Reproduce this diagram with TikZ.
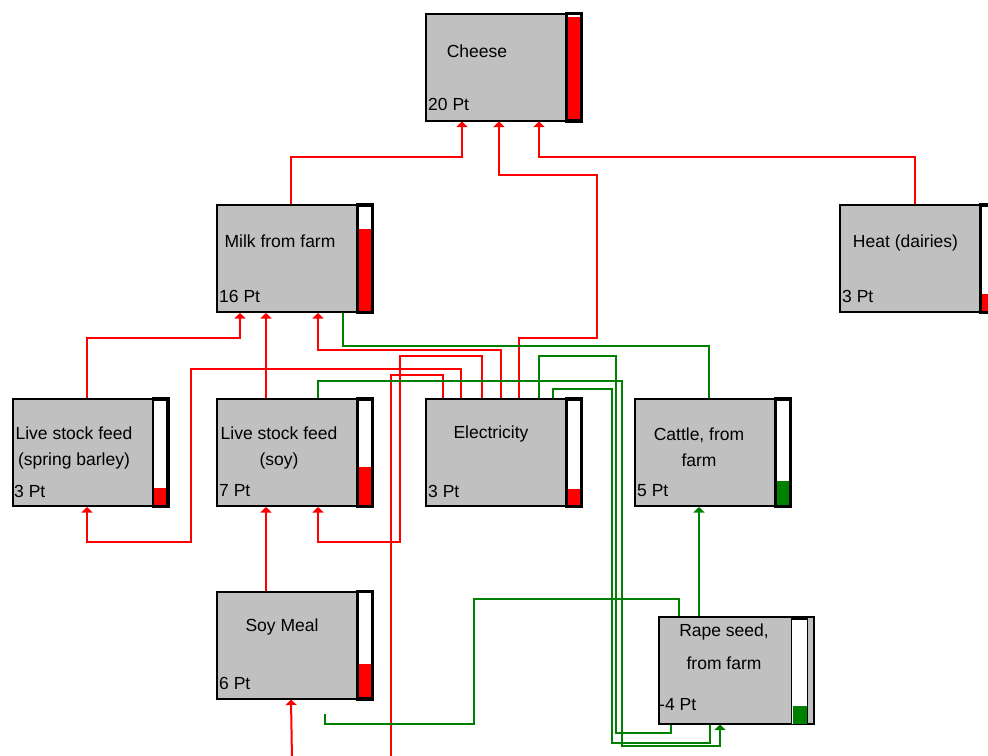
\documentclass[tikz,border=0pt]{standalone}
\usepackage{fontspec}
\setmainfont{Liberation Sans}
\usepackage{tikz}
\usetikzlibrary{arrows.meta,positioning}

\definecolor{boxgray}{RGB}{192,192,192}
\definecolor{flowred}{RGB}{255,0,0}
\definecolor{flowgreen}{RGB}{0,128,0}

% score bar at the right edge of a box: node, fraction, colour
\newcommand{\levelbar}[3]{%
  \fill[black] ([shift={(-17bp,1bp)}]#1.north east) rectangle ([shift={(1bp,-1bp)}]#1.south east);
  \fill[white] ([shift={(-14.5bp,-2.5bp)}]#1.north east) rectangle ([shift={(-2.5bp,2.5bp)}]#1.south east);
  \fill[#3] ([shift={(-14.5bp,2.5bp)}]#1.south east) rectangle ([shift={(-2.5bp,{2.5bp+102bp*#2})}]#1.south east);
}

\begin{document}
\begin{tikzpicture}[
  procbox/.style={draw,line width=2bp,fill=boxgray,minimum width=155bp,minimum height=107bp,inner sep=0pt},
  lbl/.style={font=\fontsize{17.5bp}{26bp}\selectfont,inner sep=0pt,align=center},
  ptlbl/.style={font=\fontsize{17.5bp}{21bp}\selectfont,inner sep=0pt,anchor=west},
  redflow/.style={draw=flowred,line width=2bp},
  greenflow/.style={draw=flowgreen,line width=2bp},
  flowtip/.style={-{Triangle[width=11bp,length=5.5bp]}}
]
\useasboundingbox (0,0) rectangle (988bp,-756bp);
\clip (0,0) rectangle (988bp,-756bp);

% boxes
\node (cheese) at (503.5bp,-67bp)[procbox] {};
\node (milk) at (294.5bp,-258.5bp)[procbox] {};
\node (heat) at (917.5bp,-258.5bp)[procbox] {};
\node (barley) at (90bp,-452.5bp)[procbox] {};
\node (soyfeed) at (294.5bp,-452.5bp)[procbox] {};
\node (elec) at (503.5bp,-452.5bp)[procbox] {};
\node (cattle) at (712.5bp,-452.5bp)[procbox] {};
\node (soymeal) at (294.5bp,-645bp)[procbox] {};
\node (rape) at (736.5bp,-670bp)[procbox] {};

\levelbar{cheese}{1}{flowred}
\levelbar{milk}{0.8}{flowred}
\levelbar{heat}{0.16}{flowred}
\levelbar{barley}{0.16}{flowred}
\levelbar{soyfeed}{0.37}{flowred}
\levelbar{elec}{0.15}{flowred}
\levelbar{cattle}{0.235}{flowgreen}
\levelbar{soymeal}{0.32}{flowred}
% the rape seed bar sits a little inside the box
\draw[line width=1.2bp,fill=white] ([shift={(-23.5bp,-3.5bp)}]rape.north east) rectangle ([shift={(-7.5bp,0bp)}]rape.south east);
\fill[flowgreen] ([shift={(-22.5bp,1bp)}]rape.south east) rectangle ([shift={(-8.5bp,19bp)}]rape.south east);

% texts
\node (cheesetxt) at (477bp,-51bp)[lbl] {Cheese};
\node (cheesept) at (428bp,-104bp)[ptlbl] {20 Pt};
\node (milktxt) at (280bp,-241bp)[lbl] {Milk from farm};
\node (milkpt) at (219bp,-296bp)[ptlbl] {16 Pt};
\node (heattxt) at (905.5bp,-243bp)[lbl] {Heat (dairies)};
\node (heatpt) at (842bp,-296bp)[ptlbl] {3 Pt};
\node (barleytxt) at (74bp,-448bp)[lbl] {Live stock feed\\(spring barley)};
\node (barleypt) at (14bp,-491bp)[ptlbl] {3 Pt};
\node (soyfeedtxt) at (279bp,-448bp)[lbl] {Live stock feed\\(soy)};
\node (soyfeedpt) at (219bp,-491bp)[ptlbl] {7 Pt};
\node (electxt) at (491bp,-434bp)[lbl] {Electricity};
\node (elecpt) at (428bp,-491bp)[ptlbl] {3 Pt};
\node (cattletxt) at (699bp,-447bp)[lbl] {Cattle, from\\farm};
\node (cattlept) at (637bp,-491bp)[ptlbl] {5 Pt};
\node (soymealtxt) at (282bp,-627bp)[lbl] {Soy Meal};
\node (soymealpt) at (219bp,-683bp)[ptlbl] {6 Pt};
\node (rapetxt) at (724bp,-646.5bp)[lbl] {Rape seed,\\[7bp]from farm};
\node (rapept) at (659bp,-705bp)[ptlbl] {-4 Pt};

% loose ends
\coordinate (offelec) at (390.5bp,-760bp);
\coordinate (offsoy) at (292bp,-760bp);
\coordinate (greenstub) at (325bp,-714bp);

% red flows
\draw [redflow,flowtip] ([xshift=75bp]milk.north west) -- ++(0,47bp) -| ([xshift=37bp]cheese.south west);
\draw [redflow,flowtip] ([xshift=94bp]elec.north west) -- ++(0,60.5bp) -- ++(78bp,0) -- ++(0,162.5bp) -| ([xshift=74bp]cheese.south west);
\draw [redflow,flowtip] ([xshift=76bp]heat.north west) -- ++(0,47bp) -| ([xshift=114bp]cheese.south west);
\draw [redflow,flowtip] ([xshift=75.5bp]barley.north west) -- ++(0,60.5bp) -| ([xshift=24bp]milk.south west);
\draw [redflow,flowtip] ([xshift=50bp]soyfeed.north west) -- ([xshift=50bp]milk.south west);
\draw [redflow,flowtip] ([xshift=76bp]elec.north west) -- ++(0,48.5bp) -| ([xshift=102bp]milk.south west);
\draw [redflow,flowtip] ([xshift=36bp]elec.north west) -- ++(0,29.5bp) -- ++(-270bp,0) -- ++(0,-173.5bp) -| ([xshift=75.5bp]barley.south west);
\draw [redflow,flowtip] ([xshift=57bp]elec.north west) -- ++(0,42bp) -- ++(-82bp,0) -- ++(0,-186bp) -| ([xshift=102bp]soyfeed.south west);
\draw [redflow] ([xshift=18bp]elec.north west) -- ++(0,23.5bp) -| (offelec);
\draw [redflow,flowtip] ([xshift=50bp]soymeal.north west) -- ([xshift=50bp]soyfeed.south west);
\draw [redflow,flowtip] (offsoy) -- ([xshift=75bp]soymeal.south west);

% green flows
\draw [greenflow] ([xshift=127bp]milk.south west) -- ++(0,-32.5bp) -| ([xshift=75bp]cattle.north west);
\draw [greenflow,flowtip] ([xshift=102bp]soyfeed.north west) -- ++(0,17.5bp) -- ++(303.5bp,0) -- ++(0,-365bp) -| ([xshift=62bp]rape.south west);
\draw [greenflow] ([xshift=114bp]elec.north west) -- ++(0,42.5bp) -- ++(76.5bp,0) -- ++(0,-377bp) -| ([xshift=13bp]rape.south west);
\draw [greenflow] ([xshift=128bp]elec.north west) -- ++(0,9bp) -- ++(58.5bp,0) -- ++(0,-353.5bp) -| ([xshift=52bp]rape.south west);
\draw [greenflow] (greenstub) -- ++(0,-10bp) -- ++(149bp,0) -- ++(0,125bp) -| ([xshift=21bp]rape.north west);
\draw [greenflow,flowtip] ([xshift=41bp]rape.north west) -- ([xshift=65bp]cattle.south west);
\end{tikzpicture}
\end{document}
